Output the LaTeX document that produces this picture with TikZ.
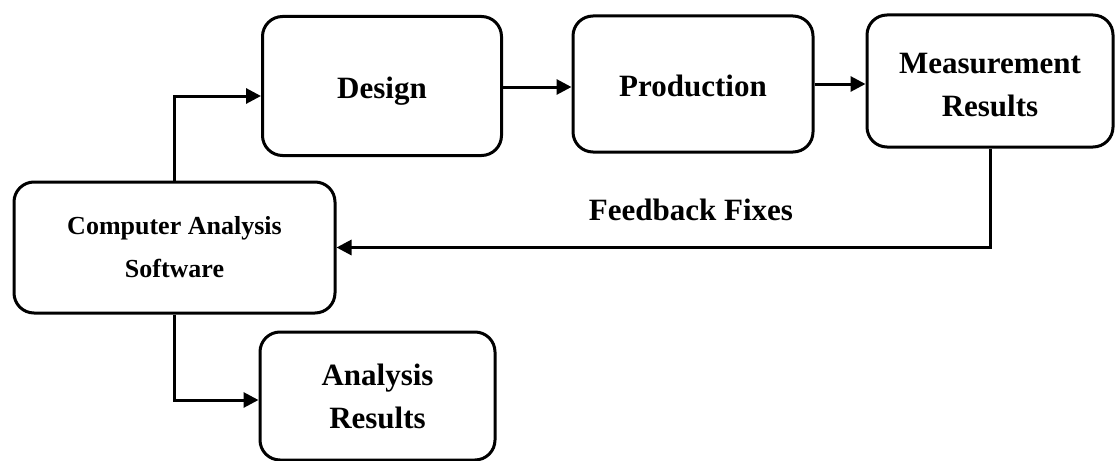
\documentclass[tikz,border=0pt]{standalone}
\usepackage{fontspec}
\setmainfont{Liberation Serif}
\usetikzlibrary{arrows.meta}
\tikzset{
  box/.style={draw, line width=3pt, rounded corners=20pt, inner sep=0pt,
              align=center, font=\bfseries},
  arr/.style={line width=3pt, -{Triangle[length=15pt,width=15pt]}},
  big/.style={font=\bfseries\fontsize{31}{43}\selectfont},
  mid/.style={font=\bfseries\fontsize{26}{43}\selectfont},
}
\begin{document}
\begin{tikzpicture}[x=1pt,y=-1pt]
  \useasboundingbox (0,0) rectangle (1115,460);
  % process boxes
  \node[box, big, minimum width=239pt, minimum height=139pt] (design) at (382,86) {\raisebox{-12pt}[0pt][0pt]{Design}};
  \node[box, big, minimum width=240pt, minimum height=136pt] (prod) at (693,84) {\raisebox{-13pt}[0pt][0pt]{Production}};
  \node[box, big, minimum width=246pt, minimum height=132pt] (meas) at (990,81) {\rule{0pt}{29pt}Measurement\\Results};
  \node[box, mid, minimum width=321pt, minimum height=131pt] (comp) at (174.5,247.5) {Computer Analysis\\Software};
  \node[box, big, minimum width=235pt, minimum height=128pt] (anal) at (377.5,396) {Analysis\\Results};
  % feedback label
  \node[big] (fb) at (691,210) {Feedback Fixes};
  % connectors
  \draw[arr] (comp.north) |- ([yshift=-10pt]design.west);
  \draw[arr] ([yshift=-1pt]design.east) -- ([yshift=-1pt]design.east -| prod.west);
  \draw[arr] (prod.east) -- (prod.east -| meas.west);
  \draw[arr] (meas.south) |- (comp.east);
  \draw[arr] (comp.south) |- ([yshift=-4pt]anal.west);
\end{tikzpicture}
\end{document}
